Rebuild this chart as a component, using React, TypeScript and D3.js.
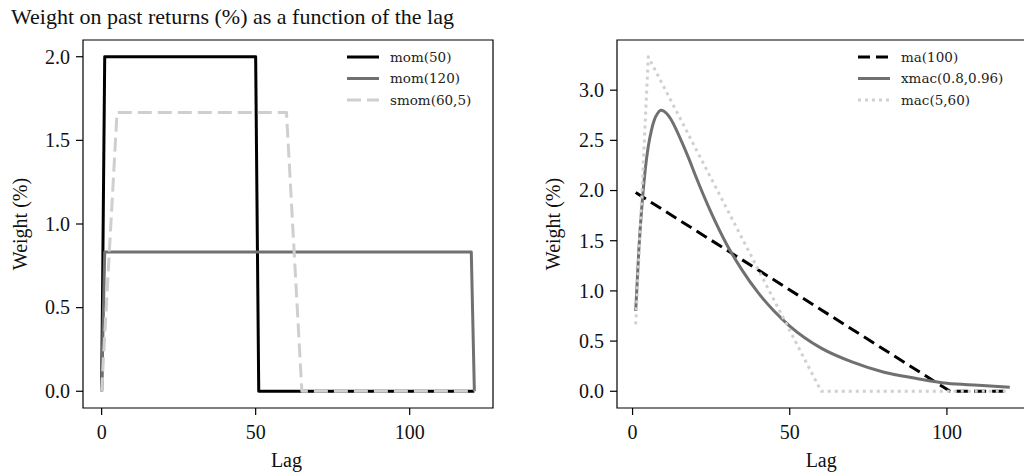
import * as d3 from "d3";

const title = "Weight on past returns (%) as a function of the lag";
const xLabel = "Lag";
const yLabel = "Weight (%)";

const lagTicks = [0, 50, 100];
const leftYTicks = [0, 0.5, 1.0, 1.5, 2.0];
const rightYTicks = [0, 0.5, 1.0, 1.5, 2.0, 2.5, 3.0];

// left panel: [lag, weight %]
const mom50: [number, number][] = [[0, 0], [1, 2], [50, 2], [51, 0], [121, 0]];
const mom120: [number, number][] = [[0, 0], [1, 0.833], [120, 0.833], [121, 0]];
const smom60: [number, number][] = [[0, 0], [5, 1.667], [60, 1.667], [65, 0], [121, 0]];

// right panel
const ma100: [number, number][] = [[1, 1.98], [100, 0.02], [101, 0], [120, 0]];
const xmacLags = [1, 2, 3, 4, 5, 6, 7, 8, 9, 10, 12, 14, 16, 18, 20, 25, 30, 35, 40, 45, 50, 60, 70, 80, 90, 100, 110, 120];
const xmacValues = [0.8, 1.41, 1.86, 2.2, 2.44, 2.6, 2.71, 2.77, 2.8, 2.79, 2.72, 2.6, 2.46, 2.31, 2.15, 1.78, 1.46, 1.2, 0.98, 0.8, 0.65, 0.43, 0.29, 0.19, 0.13, 0.08, 0.06, 0.04];
const mac560: [number, number][] = [[1, 0.667], [5, 3.333], [60, 0], [120, 0]];

type Series = {
  name: string;
  data: [number, number][];
  color: string;
  width: number;
  dash?: string;
  smooth?: boolean;
};

const leftSeries: Series[] = [
  { name: "mom(50)", data: mom50, color: "#000000", width: 3 },
  { name: "mom(120)", data: mom120, color: "#707070", width: 3 },
  { name: "smom(60,5)", data: smom60, color: "#cfcfcf", width: 3, dash: "14,6" },
];

const rightSeries: Series[] = [
  { name: "ma(100)", data: ma100, color: "#000000", width: 3, dash: "12,6" },
  {
    name: "xmac(0.8,0.96)",
    data: xmacLags.map((l, i) => [l, xmacValues[i]] as [number, number]),
    color: "#707070",
    width: 3,
    smooth: true,
  },
  { name: "mac(5,60)", data: mac560, color: "#d0d0d0", width: 3, dash: "3,4" },
];

const serif = "'Liberation Serif', 'Times New Roman', serif";

type PanelProps = {
  left: number;
  right: number;
  top: number;
  bottom: number;
  xDomain: [number, number];
  yDomain: [number, number];
  yTicks: number[];
  series: Series[];
  legendX: number;
  ylabelX: number;
};

function Panel(p: PanelProps) {
  const x = d3.scaleLinear().domain(p.xDomain).range([p.left, p.right]);
  const y = d3.scaleLinear().domain(p.yDomain).range([p.bottom, p.top]);

  return (
    <g>
      {p.series.map((s) => {
        const line = d3
          .line<[number, number]>()
          .x((d) => x(d[0]))
          .y((d) => y(d[1]))
          .curve(s.smooth ? d3.curveMonotoneX : d3.curveLinear);
        return (
          <path
            key={s.name}
            d={line(s.data) || ""}
            fill="none"
            stroke={s.color}
            strokeWidth={s.width}
            strokeDasharray={s.dash}
            strokeLinejoin="round"
          />
        );
      })}

      {/* spines */}
      <path
        d={`M${p.left},${p.bottom}V${p.top}H${p.right}V${p.bottom}Z`}
        fill="none"
        stroke="#000"
        strokeWidth={1.2}
      />

      {lagTicks.map((t) => (
        <g key={"x" + t} transform={`translate(${x(t)},${p.bottom})`}>
          <line y2={7} stroke="#000" strokeWidth={1.2} />
          <text y={31} textAnchor="middle" fontFamily={serif} fontSize={20} fill="#111">
            {t}
          </text>
        </g>
      ))}
      {p.yTicks.map((t) => (
        <g key={"y" + t} transform={`translate(${p.left},${y(t)})`}>
          <line x2={-7} stroke="#000" strokeWidth={1.2} />
          <text x={-13} dy="0.34em" textAnchor="end" fontFamily={serif} fontSize={20} fill="#111">
            {d3.format(".1f")(t)}
          </text>
        </g>
      ))}

      <text
        x={(x(0) + x(120)) / 2}
        y={467}
        textAnchor="middle"
        fontFamily={serif}
        fontSize={20}
        fill="#111"
      >
        {xLabel}
      </text>
      <text
        transform={`translate(${p.ylabelX},${(p.top + p.bottom) / 2}) rotate(-90)`}
        textAnchor="middle"
        fontFamily={serif}
        fontSize={20}
        fill="#111"
      >
        {yLabel}
      </text>

      {p.series.map((s, i) => (
        <g key={"lg" + s.name} transform={`translate(${p.legendX},${57 + i * 21.5})`}>
          <line
            x1={0}
            x2={32}
            stroke={s.color}
            strokeWidth={s.width}
            strokeDasharray={s.dash}
          />
          <text x={43} dy="0.35em" fontFamily="'DejaVu Serif', serif" fontSize={13.5} fill="#222">
            {s.name}
          </text>
        </g>
      ))}
    </g>
  );
}

export default function App() {
  return (
    <svg
      width={1024}
      height={476}
      style={{ position: "absolute", left: 0, top: 0, background: "#fff" }}
    >
      <text x={11} y={24} fontFamily={serif} fontSize={22} fill="#111">
        {title}
      </text>
      <Panel
        left={83}
        right={493}
        top={40}
        bottom={408}
        xDomain={[-6.05, 127.05]}
        yDomain={[-0.1, 2.1]}
        yTicks={leftYTicks}
        series={leftSeries}
        legendX={347}
        ylabelX={27}
      />
      <Panel
        left={617}
        right={1028.5}
        top={40}
        bottom={408}
        xDomain={[-4.95, 125.95]}
        yDomain={[-0.1667, 3.5]}
        yTicks={rightYTicks}
        series={rightSeries}
        legendX={858}
        ylabelX={560}
      />
    </svg>
  );
}
